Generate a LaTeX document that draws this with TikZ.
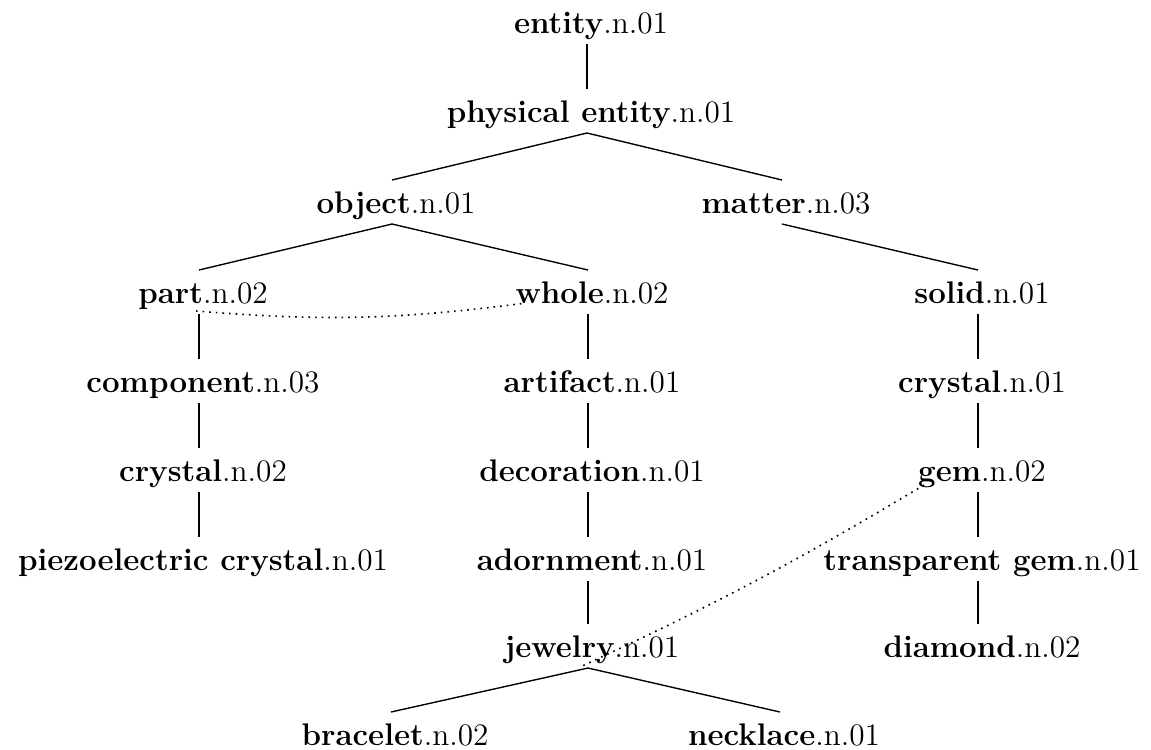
\documentclass[tikz,border=0pt]{standalone}
\usetikzlibrary{calc}
\begin{document}
\begin{tikzpicture}[x=0.4pt,y=-0.4pt,
  syn/.style={anchor=base,inner sep=0pt,font=\fontsize{12.5}{15}\selectfont},
  treeline/.style={line width=0.55pt,black},
  linkline/.style={line width=0.65pt,dotted,black}]
\useasboundingbox (0,0) rectangle (1151,749);
% nodes: text centre x, baseline y
\node[syn] (ent)   at (591,33)  {\textbf{entity}.n.01};
\node[syn] (phys)  at (591,122) {\textbf{physical entity}.n.01};
\node[syn] (obj)   at (396,213) {\textbf{object}.n.01};
\node[syn] (mat)   at (786,213) {\textbf{matter}.n.03};
\node[syn] (part)  at (203,303) {\textbf{part}.n.02};
\node[syn] (whole) at (592,303) {\textbf{whole}.n.02};
\node[syn] (solid) at (982,303) {\textbf{solid}.n.01};
\node[syn] (comp)  at (203,392) {\textbf{component}.n.03};
\node[syn] (art)   at (592,392) {\textbf{artifact}.n.01};
\node[syn] (crA)   at (982,392) {\textbf{crystal}.n.01};
\node[syn] (crB)   at (203,481) {\textbf{crystal}.n.02};
\node[syn] (deco)  at (592,481) {\textbf{decoration}.n.01};
\node[syn] (gem)   at (982,481) {\textbf{gem}.n.02};
\node[syn] (piezo) at (203,570) {\textbf{piezoelectric crystal}.n.01};
\node[syn] (adorn) at (592,570) {\textbf{adornment}.n.01};
\node[syn] (tgem)  at (982,570) {\textbf{transparent gem}.n.01};
\node[syn] (jew)   at (592,657) {\textbf{jewelry}.n.01};
\node[syn] (diam)  at (982,657) {\textbf{diamond}.n.02};
\node[syn] (brac)  at (395,745) {\textbf{bracelet}.n.02};
\node[syn] (neck)  at (784,745) {\textbf{necklace}.n.01};
% tree edges
\foreach \a/\b in {ent/phys,phys/obj,phys/mat,obj/part,obj/whole,mat/solid,
  part/comp,comp/crB,crB/piezo,whole/art,art/deco,deco/adorn,adorn/jew,
  solid/crA,crA/gem,gem/tgem,tgem/diam,jew/brac,jew/neck}
  \draw[treeline] ($(\a.base)+(-4,11)$) -- ($(\b.base)+(-4,-33)$);
% dotted links
\draw[linkline] ($(part.base)+(-7,8)$) to[bend right=6] ($(whole.base)+(-66,0)$);
\draw[linkline] ($(gem.base)+(-58,4)$) to[bend left=3] ($(jew.base)+(-12,10)$);
\end{tikzpicture}
\end{document}
